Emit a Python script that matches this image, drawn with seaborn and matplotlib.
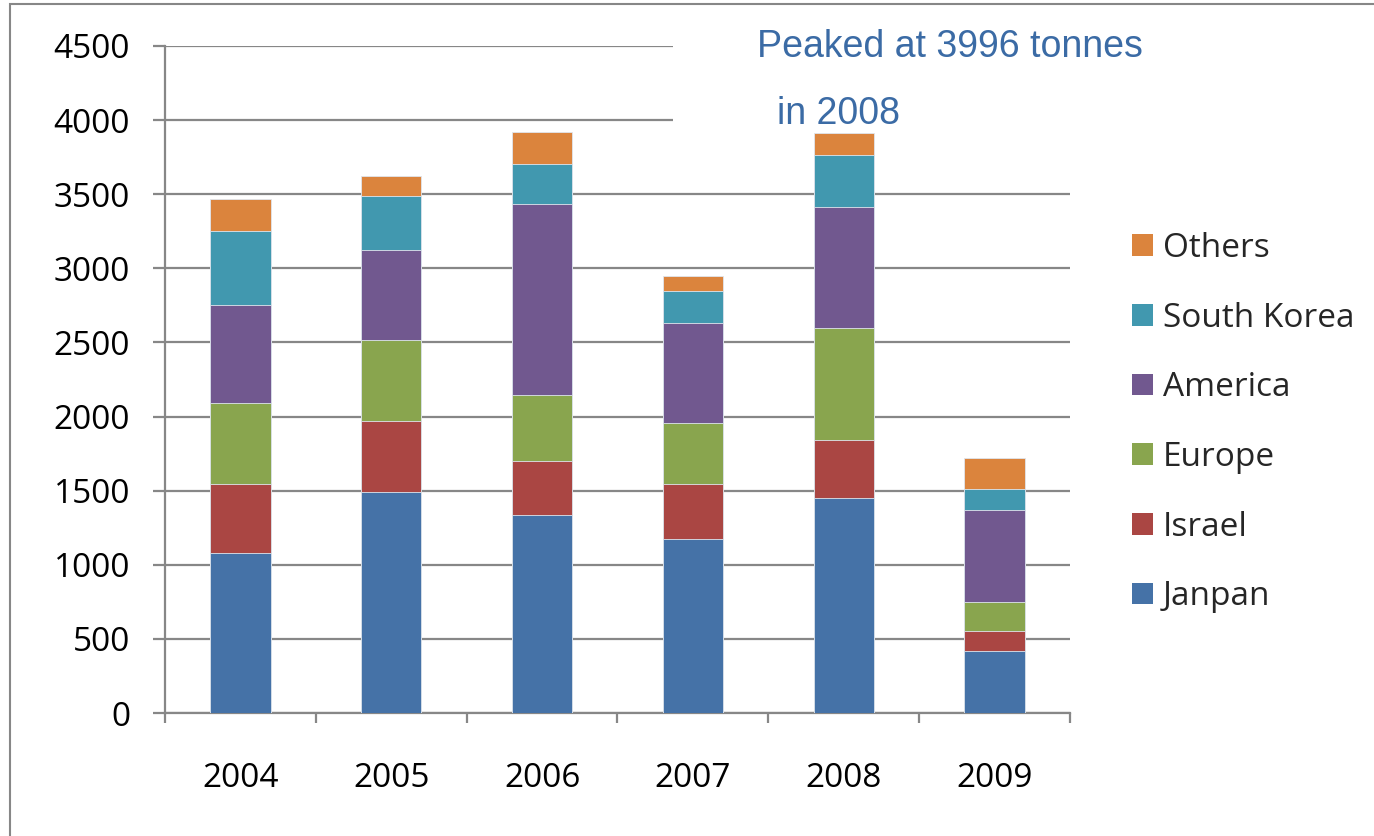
import numpy as np
import pandas as pd
import seaborn as sns
import matplotlib.pyplot as plt
from matplotlib.patches import Patch, Rectangle

# values (tonnes)
years = ['2004', '2005', '2006', '2007', '2008', '2009']
japan = [1080, 1491, 1336, 1174, 1451, 418]
israel = [465, 479, 364, 371, 391, 135]
europe = [547, 547, 446, 412, 756, 196]
america = [661, 607, 1288, 674, 816, 621]
south_korea = [499, 364, 270, 216, 351, 141]
others = [216, 135, 216, 101, 148, 209]

series_names = ['Janpan', 'Israel', 'Europe', 'America', 'South Korea', 'Others']
series_colors = ['#4572A7', '#AA4643', '#89A54E', '#71588F', '#4198AF', '#DB843D']
yticks = [0, 500, 1000, 1500, 2000, 2500, 3000, 3500, 4000, 4500]

sns.set_style('white')
plt.rcParams['font.family'] = ['Open Sans', 'DejaVu Sans']

df = pd.DataFrame({'year': years, 'Janpan': japan, 'Israel': israel,
                   'Europe': europe, 'America': america,
                   'South Korea': south_korea, 'Others': others})
cum = df[series_names].cumsum(axis=1)

fig = plt.figure(figsize=(13.74, 8.36), dpi=100)
ax = fig.add_axes([165/1374, 1-713/836, (1070-165)/1374, (713-46)/836])

grey = '#878787'

# stacked bars: draw tallest total first, then overlay the lower parts
for name, col in reversed(list(zip(series_names, series_colors))):
    sns.barplot(x=df['year'], y=cum[name], color=col, width=0.4,
                errorbar=None, ax=ax, zorder=3, linewidth=0.6,
                edgecolor='#dfe6ee', saturation=1)

ax.set_xlim(-0.5, 5.5)
ax.set_ylim(0, 4500)
ax.set_yticks(yticks)
ax.set_yticklabels([str(v) for v in yticks])
ax.set_xlabel('')
ax.set_ylabel('')
ax.yaxis.grid(True, color=grey, linewidth=1.6, zorder=0)
ax.set_axisbelow(True)

for s in ['top', 'right']:
    ax.spines[s].set_visible(False)
for s in ['left', 'bottom']:
    ax.spines[s].set_color(grey)
    ax.spines[s].set_linewidth(1.6)

ax.tick_params(axis='y', length=8.6, width=1.6, color=grey, pad=16.5,
               labelsize=24, labelcolor='black', left=True)
ax.tick_params(axis='x', which='major', length=0, pad=35, labelsize=24,
               labelcolor='black')
ax.set_xticks(np.arange(-0.5, 6.0, 1.0), minor=True)
ax.tick_params(axis='x', which='minor', length=7.5, width=1.6, color=grey,
               bottom=True)

# white box behind the note hides the top gridlines
ax.add_patch(Rectangle((0.561, 0.855), 0.6, 0.2, transform=ax.transAxes,
                       facecolor='white', edgecolor='none', zorder=1,
                       clip_on=False))
note_color = '#3B6BA5'
fig.text(757/1374, 1-57/836, 'Peaked at 3996 tonnes', color=note_color,
         fontsize=27, family=['Liberation Sans', 'DejaVu Sans'],
         ha='left', va='baseline')
fig.text(777/1374, 1-124/836, 'in 2008', color=note_color,
         fontsize=27, family=['Liberation Sans', 'DejaVu Sans'],
         ha='left', va='baseline')

handles = [Patch(facecolor=c, edgecolor='none', label=n)
           for n, c in zip(series_names, series_colors)][::-1]
fig.legend(handles=handles, loc='center left',
           bbox_to_anchor=(1132/1374, 1-422.5/836), frameon=False,
           fontsize=24, handlelength=0.63, handleheight=0.63,
           handletextpad=0.3, labelspacing=1.1, borderpad=0,
           borderaxespad=0)

# outer chart frame (cut off at the right and bottom)
fig.add_artist(Rectangle((10/1374, -0.1), 1.2, 1.1-4/836,
                         transform=fig.transFigure, facecolor='none',
                         edgecolor=grey, linewidth=1.5))

fig.savefig('out.png', dpi=100)
